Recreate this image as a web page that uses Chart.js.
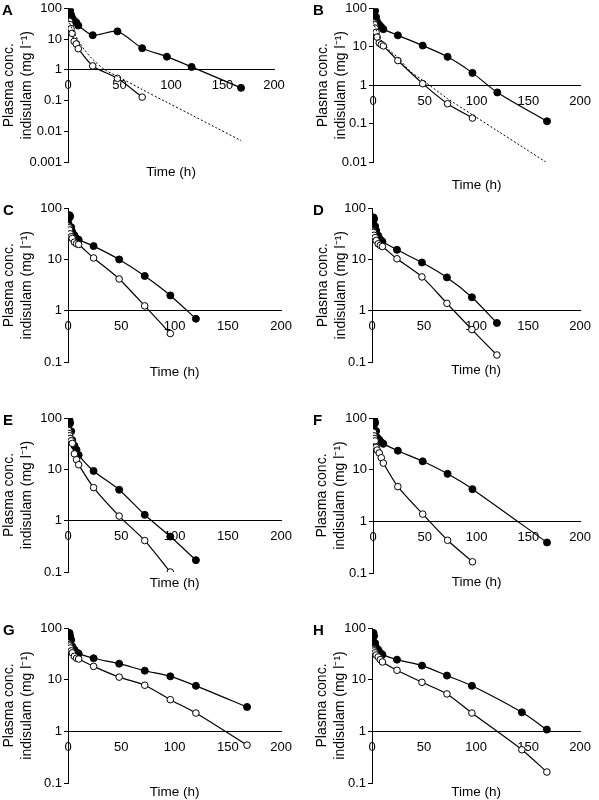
<!DOCTYPE html>
<html>
<head>
<meta charset="utf-8">
<script src="https://cdn.jsdelivr.net/npm/chart.js@4/dist/chart.umd.min.js"></script>
<style>
  body { margin: 0; background: #fff; }
  #wrap { position: relative; width: 599px; height: 800px; }
  canvas { position: absolute; }
  .letter { position: absolute; font: bold 15px "Liberation Sans", Arial, sans-serif; line-height: 15px; color: #000; }
</style>
</head>
<body>
<div id="wrap"></div>
<script>
// sampling times (h) and concentrations (mg/l), closed = filled circles, open = open circles
const hours = [0.5, 1, 1.5, 2, 3, 4, 6, 8, 10, 24, 48, 72, 96, 120, 144, 168];
const closedA = [45, 65, 80, 88, 62, 50, 40, 35, 28, 13.5, 18, 5.1, 2.7, 1.25, null, 0.26];
const openA   = [35, 40, 38, 30, 22, 15.5, 8.5, 7, 4.9, 1.35, 0.53, 0.13, null, null, null, null];
const closedB = [45, 70, 85, 88, 60, 45, 38, 33, 29, 20, 10.8, 5.5, 2.1, 0.65, null, 0.115];
const openB   = [44, 42, 38, 31, 24, 18, 12.6, 11.5, 10.6, 4.4, 1.1, 0.33, 0.14, null, null, null];
const closedC = [50, 65, 74, 70, 43, 35, 30, 26, 24.5, 18.4, 10.1, 4.8, 2.0, 0.7, null, null];
const openC   = [45, 42, 38, 32, 28, 26, 22, 20.5, 19.8, 10.8, 4.2, 1.25, 0.36, null, null, null];
const closedD = [40, 55, 67, 62, 45, 37, 29.5, 24.7, 22.6, 15.6, 8.8, 4.5, 1.84, 0.58, null, null];
const openD   = [37, 36, 34, 30, 27, 23.7, 20.4, 19, 18.1, 10.4, 4.6, 1.4, 0.43, 0.137, null, null];
const closedE = [58, 75, 91, 80, 55, 37, 29, 24, 19, 9.3, 4.0, 1.3, 0.49, 0.17, null, null];
const openE   = [57, 50, 45, 40, 36, 32, 20, 15.4, 12.3, 4.4, 1.23, 0.41, 0.10, null, null, null];
const closedF = [55, 75, 89, 80, 56, 42, 38, 34, 31.6, 23.3, 14.5, 8.3, 4.2, null, null, 0.39];
const openF   = [53, 45, 40, 36, 27, 24, 21, 17, 13.4, 4.7, 1.38, 0.43, 0.165, null, null, null];
const closedG = [50, 65, 80, 70, 59, 44, 38, 34, 32, 26, 20.4, 14.9, 11.6, 7.6, null, 2.96];
const openG   = [51, 48, 45, 41, 36, 33, 28.4, 26, 25.1, 18.1, 11.2, 7.8, 4.1, 2.26, null, 0.54];
const closedH = [50, 65, 80, 70, 51, 42, 38, 33, 30.5, 24.4, 18.7, 12, 7.6, null, 2.33, 1.08];
const openH   = [41, 40, 38, 36, 33, 30, 27.5, 24.4, 22, 15.2, 8.9, 5.3, 2.26, null, 0.44, 0.163];

// dotted model curves in A and B
const fitHours = [0, 4, 8, 12, 16, 24, 36, 48, 72, 96, 120, 144, 168];
const fitA = [45, 22, 12, 7, 4.5, 2.2, 1.0, 0.62, 0.23, 0.088, 0.034, 0.013, 0.005];
const fitB = [45, 24, 15, 11, 8, 5.3, 2.3, 1.35, 0.45, 0.17, 0.065, 0.025, 0.0095];

const xTicks = [0, 50, 100, 150, 200];
const yTicksA = [0.001, 0.01, 0.1, 1, 10, 100];
const yTicksB = [0.01, 0.1, 1, 10, 100];
const yTicksRest = [0.1, 1, 10, 100];

const letters = ['A', 'B', 'C', 'D', 'E', 'F', 'G', 'H'];
const yTitle = ['Plasma conc.', 'indisulam (mg l\u207B\u00B9)'];
const xTitle = 'Time (h)';

Chart.defaults.font.family = '"Liberation Sans", Arial, sans-serif';
Chart.defaults.color = '#000';

// layout of each panel (page pixels)
const panels = [
  {closed: closedA, open: openA, fit: fitA, yTicks: yTicksA, box: [0, 0, 300, 200],   area: [68, 274, 6, 162],   timeY: 172, titleX: 9,   letter: [2, 2]},
  {closed: closedB, open: openB, fit: fitB, yTicks: yTicksB, box: [300, 0, 299, 200], area: [373, 585, 6, 162],  timeY: 185, titleX: 323, letter: [313, 2]},
  {closed: closedC, open: openC, yTicks: yTicksRest, box: [0, 200, 300, 200],   area: [68, 283, 206, 362],  timeY: 372, titleX: 9,   letter: [3, 202]},
  {closed: closedD, open: openD, yTicks: yTicksRest, box: [300, 200, 299, 200], area: [372, 587, 206, 362], timeY: 370, titleX: 323, letter: [313, 202]},
  {closed: closedE, open: openE, yTicks: yTicksRest, box: [0, 400, 300, 200],   area: [68, 283, 418, 572],  timeY: 583, titleX: 8,   letter: [3, 412]},
  {closed: closedF, open: openF, yTicks: yTicksRest, box: [300, 400, 299, 200], area: [373, 587, 418, 573], timeY: 582, titleX: 322, letter: [313, 412]},
  {closed: closedG, open: openG, yTicks: yTicksRest, box: [0, 600, 300, 200],   area: [68, 283, 628, 783],  timeY: 792, titleX: 8,   letter: [3, 622]},
  {closed: closedH, open: openH, yTicks: yTicksRest, box: [300, 600, 299, 200], area: [372, 587, 628, 783], timeY: 792, titleX: 322, letter: [313, 622]}
];

const Y_LH = 18, X_LH = 16;
const wrap = document.getElementById('wrap');

function toPoints(xs, ys) {
  const pts = [];
  xs.forEach((x, i) => { if (ys[i] != null) pts.push({x: x, y: ys[i]}); });
  return pts;
}

panels.forEach((p, i) => {
  const [bx, by, bw, bh] = p.box;
  const [cl, cr, ct, cb] = p.area;
  const padLeft = Math.max(0, p.titleX - bx - Y_LH / 2);
  const yWidth = cl - bx - padLeft;
  const xTitleH = p.timeY - cb + X_LH / 2;
  const padding = {left: padLeft, right: bx + bw - cr, top: ct - by, bottom: by + bh - cb - xTitleH};

  const cv = document.createElement('canvas');
  cv.width = bw; cv.height = bh;
  cv.style.left = bx + 'px'; cv.style.top = by + 'px';
  wrap.appendChild(cv);

  const lab = document.createElement('div');
  lab.className = 'letter';
  lab.textContent = letters[i];
  lab.style.left = p.letter[0] + 'px'; lab.style.top = p.letter[1] + 'px';
  wrap.appendChild(lab);

  const datasets = [];
  if (p.fit) {
    datasets.push({data: toPoints(fitHours, p.fit), borderColor: '#000', borderWidth: 1,
      borderDash: [2, 2], pointRadius: 0, tension: 0.3, fill: false});
  }
  datasets.push({data: toPoints(hours, p.open), borderColor: '#000', borderWidth: 1.2,
    pointRadius: 3.3, pointBackgroundColor: '#fff', pointBorderColor: '#000', pointBorderWidth: 1, tension: 0.25});
  datasets.push({data: toPoints(hours, p.closed), borderColor: '#000', borderWidth: 1.2,
    pointRadius: 3.5, pointBackgroundColor: '#000', pointBorderColor: '#000', pointBorderWidth: 1, tension: 0.25});

  new Chart(cv, {
    type: 'line',
    data: {datasets},
    options: {
      responsive: false,
      animation: false,
      devicePixelRatio: 1,
      layout: {padding},
      plugins: {legend: {display: false}, tooltip: {enabled: false}},
      scales: {
        x: {
          type: 'linear', position: {y: 1}, min: 0, max: 200,
          afterBuildTicks: s => { s.ticks = xTicks.map(v => ({value: v})); },
          afterFit: s => { s.height = 0; },
          grid: {display: false, drawTicks: false},
          border: {display: true, color: '#000', width: 1},
          ticks: {padding: 8, font: {size: 13}, autoSkip: false, maxRotation: 0}
        },
        x2: {
          type: 'linear', position: 'bottom', min: 0, max: 200,
          afterFit: s => { s.height = xTitleH; },
          grid: {display: false, drawTicks: false},
          border: {display: false},
          ticks: {display: false},
          title: {display: true, text: xTitle, padding: 0, font: {size: 13.5, lineHeight: X_LH / 13.5}}
        },
        y: {
          type: 'logarithmic', position: 'left',
          min: p.yTicks[0], max: p.yTicks[p.yTicks.length - 1],
          afterBuildTicks: s => { s.ticks = p.yTicks.map(v => ({value: v})); },
          afterFit: s => { s.width = yWidth; },
          grid: {display: true, drawOnChartArea: false, drawTicks: true, tickLength: 4, color: '#000'},
          border: {display: true, color: '#000', width: 1},
          ticks: {padding: 2, font: {size: 13, lineHeight: 1}, callback: v => String(v)},
          title: {display: true, text: yTitle, padding: 0, font: {size: 14, lineHeight: Y_LH / 14}}
        }
      }
    }
  });
});
</script>
</body>
</html>
